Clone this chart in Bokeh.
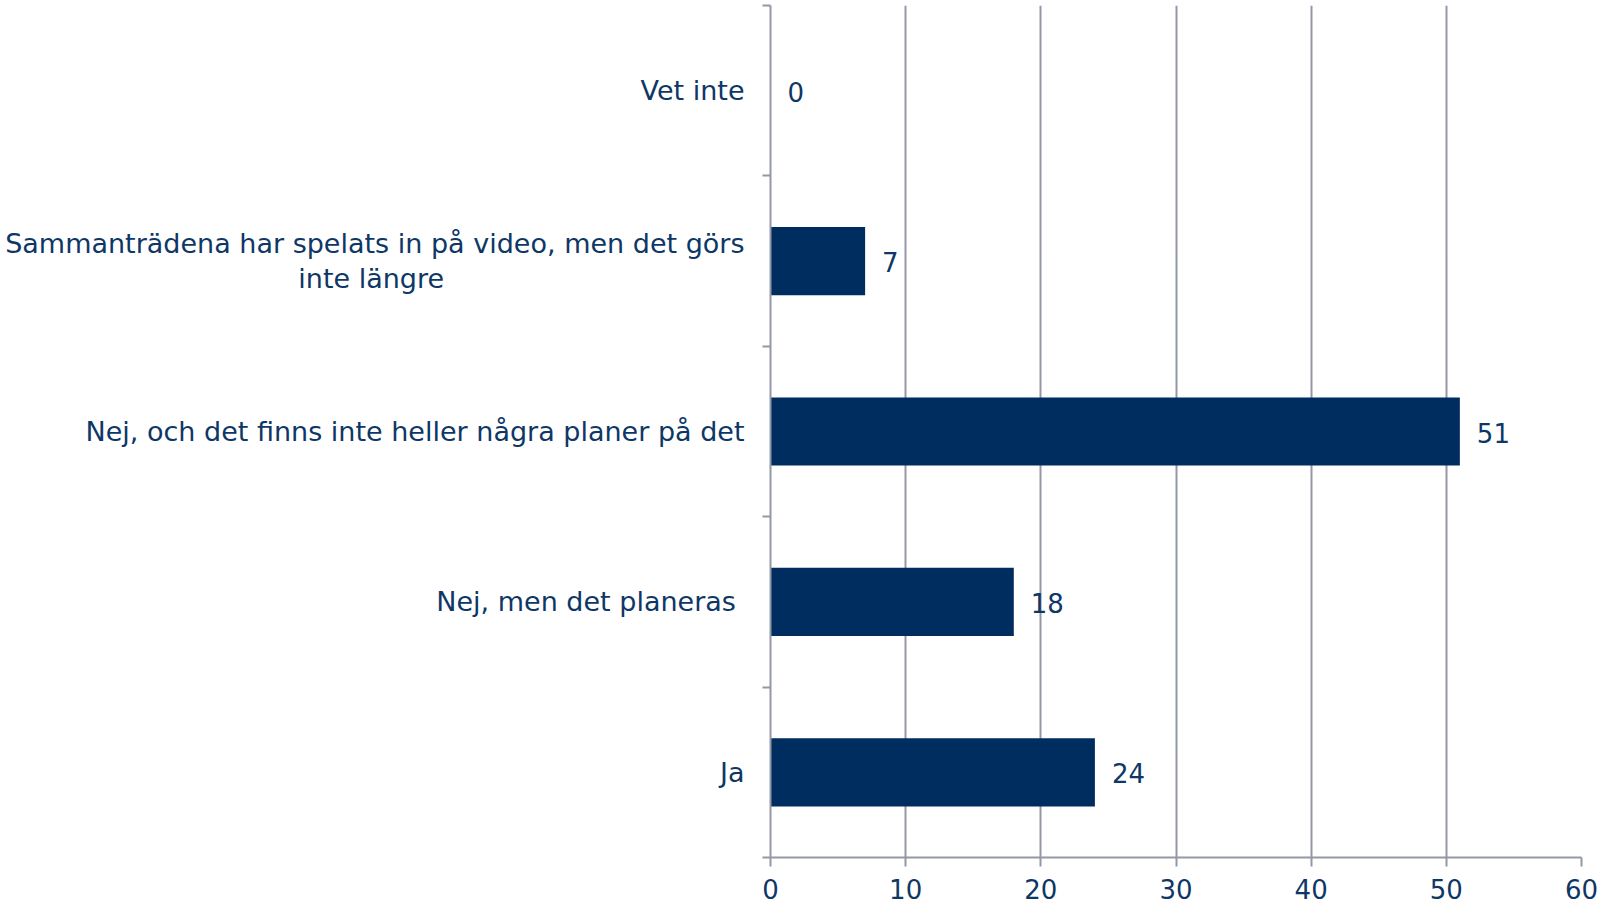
from bokeh.plotting import figure
from bokeh.models import FixedTicker, Range1d
from bokeh.core.properties import value
from bokeh.embed import file_html
from bokeh.resources import INLINE

# ---- data ----
categories = [
    "Ja",
    "Nej, men det planeras ",
    "Nej, och det finns inte heller några planer på det",
    "Sammanträdena har spelats in på video, men det görs\ninte längre",
    "Vet inte",
]
values = [24, 18, 51, 7, 0]
x_ticks = [0, 10, 20, 30, 40, 50, 60]

# ---- style ----
FONT = "DejaVu Sans"
FS = "26px"
CAT_FS = "27px"
TEXT = "#0E3766"
BAR = "#002D5F"
GRID = "#9497A6"
WRAP_PAD = "\u00a0" * 35  # pushes the second line of a wrapped label to the centre

idx = list(range(len(categories)))

p = figure(
    width=1610, height=907,
    x_range=Range1d(x_ticks[0], x_ticks[-1]),
    y_range=Range1d(-0.5, len(categories) - 0.5),
    output_backend="svg", toolbar_location=None,
    min_border_left=770, min_border_right=29,
    min_border_top=5, min_border_bottom=50,
)
p.outline_line_color = None
p.background_fill_color = "white"
p.border_fill_color = "white"

# bars
p.hbar(y=idx, left=0, right=values, height=0.4, fill_color=BAR, line_color=None)

# value labels
p.text(x=values, y=idx, text=[str(v) for v in values], x_offset=17, y_offset=1,
       text_baseline="middle", text_align="left",
       text_font=value(FONT), text_font_size=FS, text_color=TEXT)

# x axis
xa = p.xaxis[0]
xa.ticker = FixedTicker(ticks=x_ticks)
xa.axis_line_color = GRID
xa.axis_line_width = 2
xa.major_tick_line_color = GRID
xa.major_tick_line_width = 2
xa.major_tick_out = 9
xa.major_tick_in = 0
xa.minor_tick_line_color = None
xa.major_label_text_font = FONT
xa.major_label_text_font_size = FS
xa.major_label_text_color = TEXT
xa.major_label_standoff = 12


def fmt_label(c):
    if "\n" in c:
        first, rest = c.split("\n", 1)
        return first + "\n" + rest + WRAP_PAD
    return c


# y axis: labels at category centres, tick marks at category boundaries
bounds = [i - 0.5 for i in range(len(categories) + 1)]
ya = p.yaxis[0]
ya.ticker = FixedTicker(ticks=idx, minor_ticks=bounds)
ya.major_label_overrides = {i: fmt_label(c) for i, c in zip(idx, categories)}
ya.axis_line_color = GRID
ya.axis_line_width = 2
ya.major_tick_line_color = None
ya.major_tick_out = 0
ya.major_tick_in = 0
ya.minor_tick_line_color = GRID
ya.minor_tick_line_width = 2
ya.minor_tick_out = 8
ya.minor_tick_in = 0
ya.major_label_text_font = FONT
ya.major_label_text_font_size = CAT_FS
ya.major_label_text_color = TEXT
ya.major_label_text_line_height = 1.15
ya.major_label_standoff = 18

# grid
p.xgrid.grid_line_color = GRID
p.xgrid.grid_line_width = 2
p.xgrid.ticker = FixedTicker(ticks=x_ticks)
p.ygrid.grid_line_color = None

open("out.html", "w").write(file_html(p, INLINE))
